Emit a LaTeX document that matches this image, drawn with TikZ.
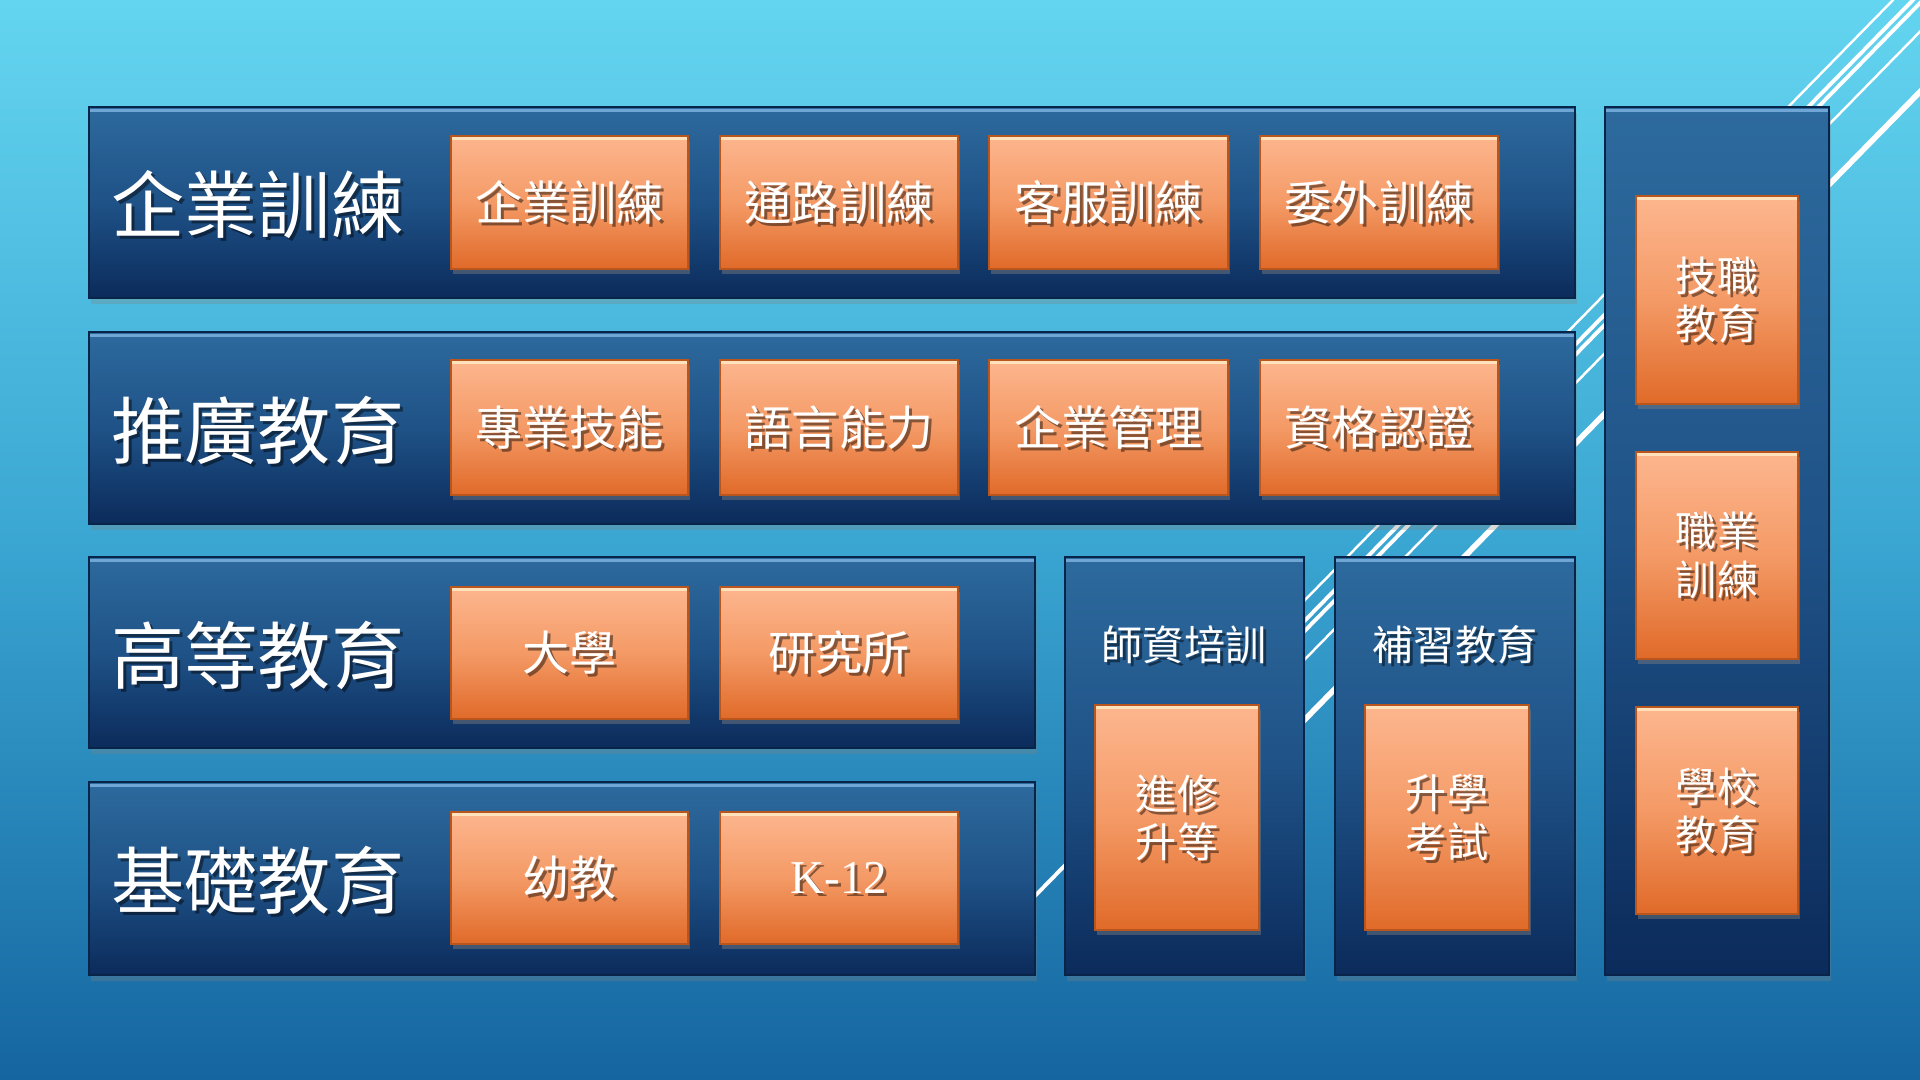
\documentclass[tikz,border=0pt]{standalone}
\usepackage{fontspec}
\setmainfont{Noto Sans CJK TC}
\newfontfamily\latinserif{Liberation Serif}
\usetikzlibrary{shadows,fit}
\definecolor{bgTop}{HTML}{64D5F0}
\definecolor{bgMid}{HTML}{3AA6D2}
\definecolor{bgBot}{HTML}{1565A0}
\definecolor{pnTop}{HTML}{2D6A9D}
\definecolor{pnMid}{HTML}{1F5287}
\definecolor{pnBot}{HTML}{0B2B5B}
\definecolor{pnLine}{HTML}{6FA6D6}
\definecolor{pnEdge}{HTML}{082448}
\definecolor{orTop}{HTML}{FDB68E}
\definecolor{orMid}{HTML}{F49A66}
\definecolor{orBot}{HTML}{E06A29}
\definecolor{orLine}{HTML}{FFE2BC}
\definecolor{orEdge}{HTML}{B8561E}
\newcommand\shlabel[4]{%
  \node[#3, txtshadow] (#1s) at ([shift={(3,3)}]#2) {#4};
  \node[#3, txtwhite] (#1) at (#2) {#4};}
\begin{document}
\begin{tikzpicture}[x=0.01cm,y=-0.01cm,
  panel/.style={inner sep=0pt, draw=pnEdge, line width=0.5pt,
    top color=pnTop, bottom color=pnBot, middle color=pnMid,
    drop shadow={shadow xshift=0.02cm, shadow yshift=-0.06cm, opacity=0.3}},
  obox/.style={inner sep=0pt, draw=orEdge, line width=0.5pt,
    top color=orTop, bottom color=orBot, middle color=orMid,
    drop shadow={shadow xshift=0.02cm, shadow yshift=-0.05cm, opacity=0.45}},
  pnhl/.style={draw=pnLine, line width=0.8pt},
  orhl/.style={draw=orLine, line width=0.9pt},
  txtshadow/.style={text=black, text opacity=0.45, inner sep=0pt},
  txtwhite/.style={text=white, inner sep=0pt},
  ttl/.style={font=\fontsize{20.8}{24}\selectfont},
  rowt/.style={font=\fontsize{13.4}{16}\selectfont},
  colt/.style={font=\fontsize{11.7}{13.7}\selectfont, align=center},
  deco/.style={draw=white, line cap=butt}]
\useasboundingbox (0,0) rectangle (1920,1080);
\fill[top color=bgTop, bottom color=bgBot, middle color=bgMid] (0,0) rectangle (1920,1080);

% diagonal decoration lines
\begin{scope}
\clip (0,0) rectangle (1920,1080);
\foreach \u/\w/\e in {1893/0.7pt/800, 1913/1.1pt/950, 1923/1.1pt/800, 1951/0.7pt/800, 2010/1.6pt/800}
  \draw[deco, line width=\w] ({\u+49},-50) -- ({\u-0.98*\e},\e);
\end{scope}

% panels
\node[panel, fit={(89,107)(1575,298)}] (p1) {};
\node[panel, fit={(89,332)(1575,524)}] (p2) {};
\node[panel, fit={(89,557)(1035,748)}] (p3) {};
\node[panel, fit={(89,782)(1035,975)}] (p4) {};
\node[panel, fit={(1065,557)(1304,975)}] (p5) {};
\node[panel, fit={(1335,557)(1575,975)}] (p6) {};
\node[panel, fit={(1605,107)(1829,975)}] (p7) {};
\foreach \p in {p1,p2,p3,p4,p5,p6,p7}
  \draw[pnhl] ([shift={(2,4)}]\p.north west) -- ([shift={(-2,4)}]\p.north east);

% titles
\shlabel{t1}{258,205}{ttl}{企業訓練}
\shlabel{t2}{258,430}{ttl}{推廣教育}
\shlabel{t3}{258,655}{ttl}{高等教育}
\shlabel{t4}{258,880}{ttl}{基礎教育}
\shlabel{t5}{1184,645}{colt}{師資培訓}
\shlabel{t6}{1455,645}{colt}{補習教育}

% row boxes
\node[obox, fit={(451,136)(688,269)}] (a1) {};
\node[obox, fit={(720,136)(958,269)}] (a2) {};
\node[obox, fit={(989,136)(1228,269)}] (a3) {};
\node[obox, fit={(1260,136)(1498,269)}] (a4) {};
\node[obox, fit={(451,360)(688,495)}] (b1) {};
\node[obox, fit={(720,360)(958,495)}] (b2) {};
\node[obox, fit={(989,360)(1228,495)}] (b3) {};
\node[obox, fit={(1260,360)(1498,495)}] (b4) {};
\node[obox, fit={(451,587)(688,719)}] (c1) {};
\node[obox, fit={(720,587)(958,719)}] (c2) {};
\node[obox, fit={(451,812)(688,944)}] (d1) {};
\node[obox, fit={(720,812)(958,944)}] (d2) {};
% column boxes
\node[obox, fit={(1095,705)(1259,930)}] (e1) {};
\node[obox, fit={(1365,705)(1529,930)}] (f1) {};
\node[obox, fit={(1636,196)(1798,404)}] (g1) {};
\node[obox, fit={(1636,452)(1798,659)}] (g2) {};
\node[obox, fit={(1636,707)(1798,914)}] (g3) {};
\foreach \b in {a1,a2,a3,a4,b1,b2,b3,b4,c1,c2,d1,d2,e1,f1,g1,g2,g3}
  \draw[orhl] ([shift={(2,3)}]\b.north west) -- ([shift={(-2,3)}]\b.north east);

\shlabel{a1t}{a1.center}{rowt}{企業訓練}
\shlabel{a2t}{a2.center}{rowt}{通路訓練}
\shlabel{a3t}{a3.center}{rowt}{客服訓練}
\shlabel{a4t}{a4.center}{rowt}{委外訓練}
\shlabel{b1t}{b1.center}{rowt}{專業技能}
\shlabel{b2t}{b2.center}{rowt}{語言能力}
\shlabel{b3t}{b3.center}{rowt}{企業管理}
\shlabel{b4t}{b4.center}{rowt}{資格認證}
\shlabel{c1t}{c1.center}{rowt}{大學}
\shlabel{c2t}{c2.center}{rowt}{研究所}
\shlabel{d1t}{d1.center}{rowt}{幼教}
\shlabel{d2t}{d2.center}{rowt}{{\latinserif K-12}}
\shlabel{e1t}{e1.center}{colt}{進修\\升等}
\shlabel{f1t}{f1.center}{colt}{升學\\考試}
\shlabel{g1t}{g1.center}{colt}{技職\\教育}
\shlabel{g2t}{g2.center}{colt}{職業\\訓練}
\shlabel{g3t}{g3.center}{colt}{學校\\教育}
\end{tikzpicture}
\end{document}
